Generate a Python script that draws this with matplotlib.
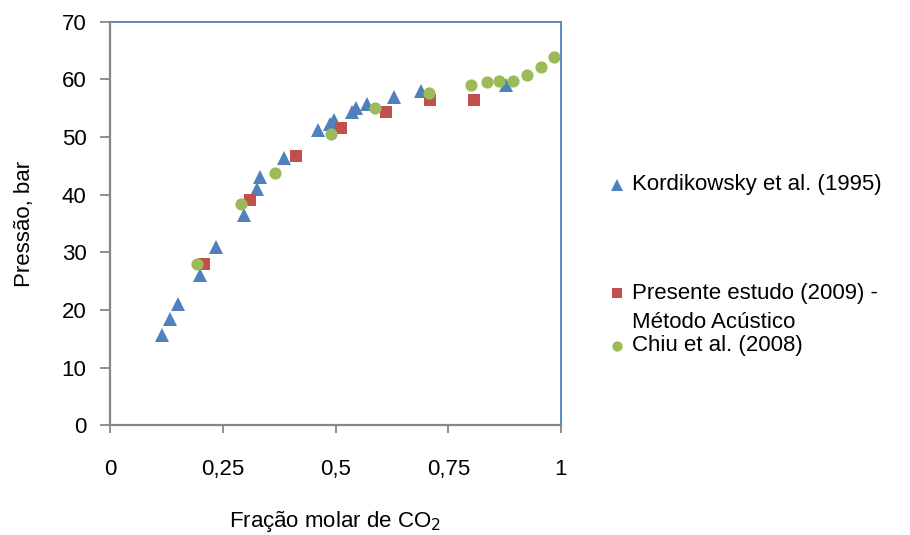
import matplotlib
matplotlib.use("Agg")
import matplotlib.pyplot as plt
from matplotlib.lines import Line2D

plt.rcParams['font.family'] = ['Liberation Sans', 'DejaVu Sans']

# Data
kord_x = [0.115, 0.133, 0.151, 0.200, 0.235, 0.297, 0.326, 0.333, 0.386, 0.461,
          0.488, 0.497, 0.537, 0.545, 0.570, 0.630, 0.690, 0.878]
kord_y = [15.7, 18.5, 21.0, 26.1, 31.0, 36.4, 40.9, 43.0, 46.3, 51.2,
          52.2, 52.9, 54.4, 55.0, 55.8, 57.0, 57.9, 59.0]

pres_x = [0.208, 0.310, 0.412, 0.512, 0.612, 0.709, 0.807]
pres_y = [27.9, 39.0, 46.7, 51.5, 54.3, 56.4, 56.4]

chiu_x = [0.193, 0.290, 0.366, 0.490, 0.588, 0.707, 0.800, 0.835, 0.862, 0.893,
          0.924, 0.955, 0.985]
chiu_y = [27.9, 38.3, 43.8, 50.6, 55.0, 57.6, 59.1, 59.5, 59.8, 59.8,
          60.8, 62.2, 63.8]

x_ticks = [0, 0.25, 0.5, 0.75, 1]
x_tick_labels = ['0', '0,25', '0,5', '0,75', '1']
y_ticks = [0, 10, 20, 30, 40, 50, 60, 70]

series = [
    (kord_x, kord_y, '^', '#4F81BD', 9.8, 8.2, 'Kordikowsky et al. (1995)'),
    (pres_x, pres_y, 's', '#C0504D', 8.8, 7.2, 'Presente estudo (2009) -\nMétodo Acústico'),
    (chiu_x, chiu_y, 'o', '#9BBB59', 8.8, 7.4, 'Chiu et al. (2008)'),
]

FS = 16

fig = plt.figure(figsize=(9.1, 5.35), dpi=100)
ax = fig.add_axes([110 / 910, (535 - 425.3) / 535, 451 / 910, 403.6 / 535])

for xs, ys, mk, col, ms, lms, lab in series:
    ax.plot(xs, ys, linestyle='none', marker=mk, color=col, markersize=ms,
            markeredgewidth=0, label=lab, clip_on=False)

ax.set_xlim(0, 1)
ax.set_ylim(0, 70)
ax.set_xticks(x_ticks)
ax.set_xticklabels(x_tick_labels)
ax.set_yticks(y_ticks)

gray = '#868686'
for s in ['left', 'bottom']:
    ax.spines[s].set_color(gray)
    ax.spines[s].set_linewidth(1.6)
    ax.spines[s].set_zorder(5)
for s in ['top', 'right']:
    ax.spines[s].set_color('#4F81BD')
    ax.spines[s].set_linewidth(1.3)

ax.tick_params(axis='y', direction='out', length=7, width=1.3, color=gray,
               labelsize=FS, pad=10)
ax.tick_params(axis='x', direction='out', length=6, width=1.3, color=gray,
               labelsize=FS, pad=18)

ax.set_xlabel('Fração molar de CO$_2$', fontsize=FS, labelpad=21)
ax.set_ylabel('Pressão, bar', fontsize=FS, labelpad=19)

# Manual legend at right
leg_y = [185, 293, 346]
for (xs, ys, mk, col, ms, lms, lab), yp in zip(series, leg_y):
    fy = 1 - yp / 535
    fig.add_artist(Line2D([617 / 910], [fy], marker=mk, color=col,
                          markersize=lms, markeredgewidth=0,
                          linestyle='none', transform=fig.transFigure))
    for i, ln in enumerate(lab.split('\n')):
        fig.text(632 / 910, 1 - (yp + 30 * i) / 535, ln, fontsize=FS,
                 va='center', ha='left')

fig.savefig('out.png', dpi=100)
